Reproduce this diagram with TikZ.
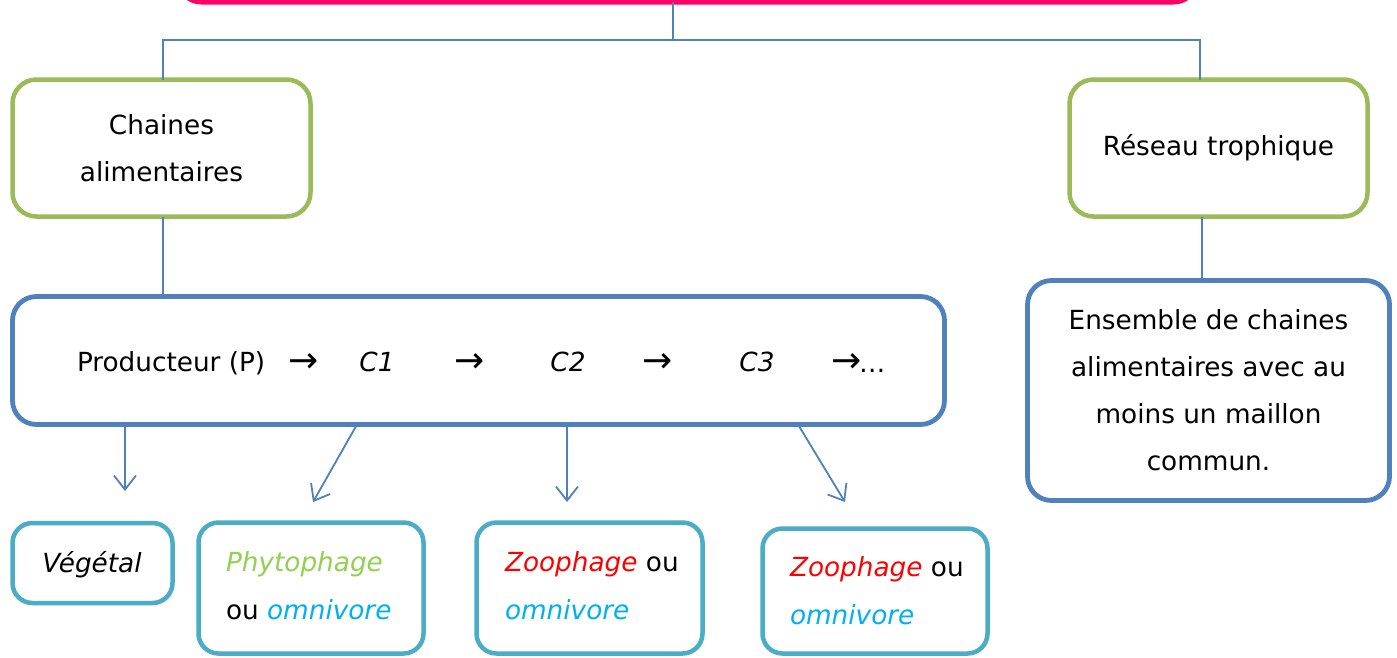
\documentclass[tikz,border=0pt]{standalone}
\usepackage{fontspec}
\setmainfont{DejaVu Sans}
\usetikzlibrary{arrows.meta}
\definecolor{pinkc}{RGB}{255,0,102}
\definecolor{greenc}{RGB}{155,187,89}
\definecolor{bluec}{RGB}{79,129,189}
\definecolor{tealc}{RGB}{75,172,198}
\definecolor{redt}{RGB}{255,0,0}
\definecolor{greent}{RGB}{146,208,80}
\definecolor{bluet}{RGB}{0,176,240}
\newcommand{\bigarrow}{{\fontsize{36}{47}\selectfont →}}
\begin{document}
\begin{tikzpicture}[x=1pt,y=-1pt,
  every node/.style={font=\fontsize{26.3}{47}\selectfont, inner sep=0pt, outer sep=0pt},
  box/.style={draw, rounded corners=24pt, line width=4.5pt, fill=white, align=center},
  gbox/.style={box, draw=greenc},
  bbox/.style={box, draw=bluec, line width=4.8pt},
  tbox/.style={box, draw=tealc, rounded corners=20pt},
  conn/.style={draw=bluec, line width=1.8pt},
  arr/.style={conn, -{Straight Barb[length=14pt,width=22pt,line width=1.8pt]}},
  lbl/.style={anchor=base west},
  clbl/.style={anchor=base},
  ]
\clip (0,0) rectangle (1397,657);
\fill[white] (0,0) rectangle (1397,657);

% top (cut) box
\node[box, draw=pinkc, line width=5pt, minimum width=1020pt, minimum height=80pt] (titre) at (687.5,-38) {};

% level 1
\node[gbox, minimum width=298pt, minimum height=137pt] (chaines) at (161.5,148) {Chaines\\alimentaires};
\node[gbox, minimum width=298pt, minimum height=137pt] (reseau) at (1218.5,148) {Réseau trophique};

% level 2
\node[bbox, minimum width=932pt, minimum height=128pt] (chain) at (478.5,360.5) {};
\node[bbox, minimum width=362pt, minimum height=220pt] (ens) at (1208.5,390.5) {Ensemble de chaines\\alimentaires avec au\\moins un maillon\\commun.};

% chain text
\node[lbl]  (prod) at (77,371) {Producteur (P)};
\node[clbl] (f1) at (304,372) {\bigarrow};
\node[clbl] (c1) at (377,371) {\itshape C1};
\node[clbl] (f2) at (470,372) {\bigarrow};
\node[clbl] (c2) at (568,371) {\itshape C2};
\node[clbl] (f3) at (658,372) {\bigarrow};
\node[clbl] (c3) at (757,371) {\itshape C3};
\node[lbl]  (f4) at (831,372) {\bigarrow\kern-2pt…};

% bottom boxes
\node[tbox, minimum width=160pt, minimum height=80pt] (veg) at (92.5,563) {};
\node[tbox, minimum width=225pt, minimum height=131pt] (phy) at (311,588) {};
\node[tbox, minimum width=226pt, minimum height=131pt] (zoo1) at (589.5,588) {};
\node[tbox, minimum width=225pt, minimum height=125pt] (zoo2) at (875,591) {};

\node[clbl] (vegt) at (92,572) {\itshape Végétal};
\node[lbl] (phy1) at (226,571) {\textcolor{greent}{\itshape Phytophage}};
\node[lbl] (phy2) at (226,619) {ou \textcolor{bluet}{\itshape omnivore}};
\node[lbl] (zoo1a) at (505,571) {\textcolor{redt}{\itshape Zoophage} ou};
\node[lbl] (zoo1b) at (505,619) {\textcolor{bluet}{\itshape omnivore}};
\node[lbl] (zoo2a) at (790,576) {\textcolor{redt}{\itshape Zoophage} ou};
\node[lbl] (zoo2b) at (790,624) {\textcolor{bluet}{\itshape omnivore}};

% connectors
\coordinate (busM) at (673,40);
\coordinate (busL) at (163,40);
\coordinate (busR) at (1200,40);
\draw[conn] (titre.south -| busM) -- (busM);
\draw[conn] (chaines.north -| busL) -- (busL) -- (busR) -- (reseau.north -| busR);
\draw[conn] (chaines.south -| busL) -- (chain.north -| busL);
\coordinate (rr) at (1202,0);
\draw[conn] (reseau.south -| rr) -- (ens.north -| rr);

\coordinate (s1) at (125,0);   \coordinate (e1) at (125,491);
\coordinate (s2) at (357,0);   \coordinate (e2) at (313,502);
\coordinate (s3) at (567,0);   \coordinate (e3) at (567,502);
\coordinate (s4) at (798,0);   \coordinate (e4) at (845,502);
\draw[arr] (chain.south -| s1) -- (e1);
\draw[arr] (chain.south -| s2) -- (e2);
\draw[arr] (chain.south -| s3) -- (e3);
\draw[arr] (chain.south -| s4) -- (e4);
\end{tikzpicture}
\end{document}
